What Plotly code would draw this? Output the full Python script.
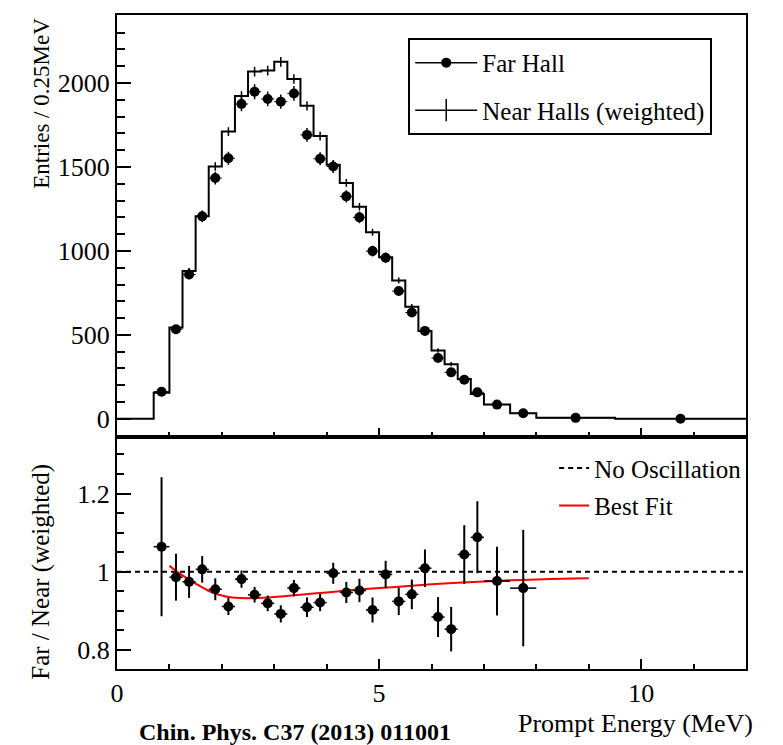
import plotly.graph_objects as go

# bin edges (MeV)
edges = [0.7, 1.0, 1.25, 1.5, 1.75, 2.0, 2.25, 2.5, 2.75, 3.0, 3.25, 3.5, 3.75, 4.0,
         4.25, 4.5, 4.75, 5.0, 5.25, 5.5, 5.75, 6.0, 6.25, 6.5, 6.75, 7.0, 7.5, 8.0,
         9.5, 12.0]

# Far Hall entries per bin
far_counts = [162, 534, 860, 1206, 1434, 1552, 1875, 1948, 1905, 1889, 1938, 1691,
              1549, 1503, 1325, 1200, 999, 959, 761, 633, 524, 362, 277, 233, 158,
              85, 33, 6, 1]
far_err = [13, 23, 29, 35, 38, 39, 43, 44, 44, 43, 44, 41, 39, 39, 36, 35, 32, 31,
           28, 25, 23, 19, 17, 15, 13, 9, 6, 2, 1]

# Near Halls (weighted)
near_counts = [156, 544, 880, 1206, 1503, 1711, 1923, 2068, 2074, 2126, 2024, 1864,
               1684, 1513, 1405, 1263, 1111, 963, 824, 668, 524, 407, 326, 237, 148,
               85, 33, 6, 1]
near_err = [8, 15, 19, 22, 25, 26, 28, 29, 29, 29, 28, 27, 26, 24, 23, 22, 21, 19,
            18, 16, 15, 13, 12, 10, 8, 5, 3, 1, 1]

# Far / Near ratio (first 27 bins, up to 8 MeV)
ratio = [1.064, 0.986, 0.974, 1.006, 0.955, 0.911, 0.981, 0.941, 0.919, 0.892, 0.958,
         0.909, 0.921, 0.996, 0.947, 0.952, 0.902, 0.993, 0.924, 0.942, 1.009, 0.884,
         0.853, 1.044, 1.088, 0.976, 0.958]
ratio_err = [0.178, 0.06, 0.041, 0.034, 0.028, 0.022, 0.022, 0.02, 0.02, 0.022, 0.021,
             0.025, 0.022, 0.027, 0.027, 0.03, 0.032, 0.035, 0.035, 0.038, 0.048,
             0.051, 0.057, 0.075, 0.092, 0.088, 0.149]

# best fit curve
fit_x = [1.0, 1.2, 1.4, 1.6, 1.8, 2.0, 2.2, 2.5, 3.0, 3.5, 4.0, 4.5, 5.0, 5.5, 6.0,
         6.5, 7.0, 7.5, 8.0, 8.5, 9.0]
fit_y = [1.015, 0.995, 0.978, 0.962, 0.948, 0.939, 0.934, 0.932, 0.935, 0.941, 0.947,
         0.953, 0.958, 0.963, 0.968, 0.972, 0.975, 0.978, 0.980, 0.982, 0.983]

noosc_x = [0, 12]
noosc_y = [1, 1]

centers = [(a + b) / 2 for a, b in zip(edges[:-1], edges[1:])]
halfw = [(b - a) / 2 for a, b in zip(edges[:-1], edges[1:])]
nr = len(ratio)

FONT = "Liberation Serif, Times New Roman, Times, serif"

fig = go.Figure()

# near halls histogram as step line (starts at 0 from x=0)
step_x = [0] + edges
step_y = [0] + near_counts + [near_counts[-1]]
fig.add_trace(go.Scatter(x=step_x, y=step_y, mode="lines", line_shape="hv",
                         line=dict(color="black", width=2), showlegend=False,
                         xaxis="x", yaxis="y"))
fig.add_trace(go.Scatter(x=centers, y=near_counts, mode="markers",
                         marker=dict(size=1, color="black"),
                         error_y=dict(type="data", array=near_err, color="black",
                                      thickness=1.5, width=0),
                         showlegend=False, xaxis="x", yaxis="y"))
# far hall points
fig.add_trace(go.Scatter(x=centers, y=far_counts, mode="markers",
                         marker=dict(size=10, color="black"),
                         error_y=dict(type="data", array=far_err, color="black",
                                      thickness=1.5, width=0),
                         error_x=dict(type="data", array=halfw, color="black",
                                      thickness=1, width=0),
                         showlegend=False, xaxis="x", yaxis="y"))

# legend entries for the top panel
fig.add_trace(go.Scatter(x=[None], y=[None], mode="lines+markers", name="Far Hall",
                         line=dict(color="black", width=1.5),
                         marker=dict(size=10, color="black"),
                         legend="legend", legendgroup="a", xaxis="x", yaxis="y"))
fig.add_trace(go.Scatter(x=[None], y=[None], mode="lines+markers",
                         name="Near Halls (weighted)",
                         line=dict(color="black", width=1.5),
                         marker=dict(symbol="line-ns", size=18, color="black",
                                     line=dict(color="black", width=1.5)),
                         legend="legend", legendgroup="b", xaxis="x", yaxis="y"))

# ratio panel
fig.add_trace(go.Scatter(x=noosc_x, y=noosc_y, mode="lines", name="No Oscillation",
                         line=dict(color="black", width=2, dash="5px,4px"),
                         legend="legend2", legendgroup="c", xaxis="x2", yaxis="y2"))
fig.add_trace(go.Scatter(x=fit_x, y=fit_y, mode="lines", name="Best Fit",
                         line=dict(color="red", width=2, shape="spline"),
                         legend="legend2", legendgroup="d", xaxis="x2", yaxis="y2"))
fig.add_trace(go.Scatter(x=centers[:nr], y=ratio, mode="markers",
                         marker=dict(size=10, color="black"),
                         error_y=dict(type="data", array=ratio_err, color="black",
                                      thickness=2, width=0),
                         error_x=dict(type="data", array=halfw[:nr], color="black",
                                      thickness=1.5, width=0),
                         showlegend=False, xaxis="x2", yaxis="y2"))

split = 0.3555
axis_common = dict(showline=True, linewidth=2, linecolor="black", mirror=True,
                   showgrid=False, zeroline=False, ticks="inside",
                   tickcolor="black", tickwidth=1.5, tickfont=dict(size=26))

# page body has an 8px margin, so the figure is 8px smaller than the window
fig.update_layout(
    width=775, height=737,
    margin=dict(l=109, r=37, t=5, b=76),
    plot_bgcolor="white", paper_bgcolor="white",
    font=dict(family=FONT, size=22, color="black"),
    xaxis=dict(domain=[0, 1], anchor="y", range=[0, 12], tick0=0, dtick=5,
               ticklen=9, showticklabels=False,
               minor=dict(dtick=1, ticks="inside", ticklen=5, tickcolor="black",
                          tickwidth=1.5),
               **axis_common),
    yaxis=dict(domain=[split, 1], anchor="x", range=[-105, 2405], tick0=0, dtick=500,
               ticklen=14, exponentformat="none",
               minor=dict(dtick=100, ticks="inside", ticklen=8, tickcolor="black",
                          tickwidth=1.5),
               **axis_common),
    xaxis2=dict(domain=[0, 1], anchor="y2", range=[0, 12], tick0=0, dtick=5,
                ticklen=10,
                minor=dict(dtick=1, ticks="inside", ticklen=5, tickcolor="black",
                           tickwidth=1.5),
                **axis_common),
    yaxis2=dict(domain=[0, split], anchor="x2", range=[0.751, 1.346], tick0=0.8,
                dtick=0.2, ticklen=14,
                minor=dict(dtick=0.05, ticks="inside", ticklen=7, tickcolor="black",
                           tickwidth=1.5),
                **axis_common),
    legend=dict(x=0.463, y=0.965, xanchor="left", yanchor="top",
                bordercolor="black", borderwidth=2, bgcolor="white",
                font=dict(family=FONT, size=25), tracegroupgap=12,
                itemwidth=62),
    legend2=dict(x=0.695, y=0.342, xanchor="left", yanchor="top",
                 bgcolor="rgba(0,0,0,0)", borderwidth=0,
                 font=dict(family=FONT, size=25), tracegroupgap=2),
)

fig.add_annotation(text="Entries / 0.25MeV", textangle=-90, xref="paper", yref="paper",
                   x=-0.12, y=0.865, xanchor="center", yanchor="middle",
                   showarrow=False, font=dict(size=23))
fig.add_annotation(text="Far / Near (weighted)", textangle=-90, xref="paper",
                   yref="paper", x=-0.12, y=0.148, xanchor="center",
                   yanchor="middle", showarrow=False, font=dict(size=25))
fig.add_annotation(text="Prompt Energy (MeV)", xref="paper", yref="paper",
                   x=1.014, y=-0.083, xanchor="right", yanchor="middle",
                   showarrow=False, font=dict(size=26))
fig.add_annotation(text="<b>Chin. Phys. C37 (2013) 011001</b>", xref="paper",
                   yref="paper", x=0.032, y=-0.097, xanchor="left", yanchor="middle",
                   showarrow=False, font=dict(size=24))

fig.write_html("out.html")
